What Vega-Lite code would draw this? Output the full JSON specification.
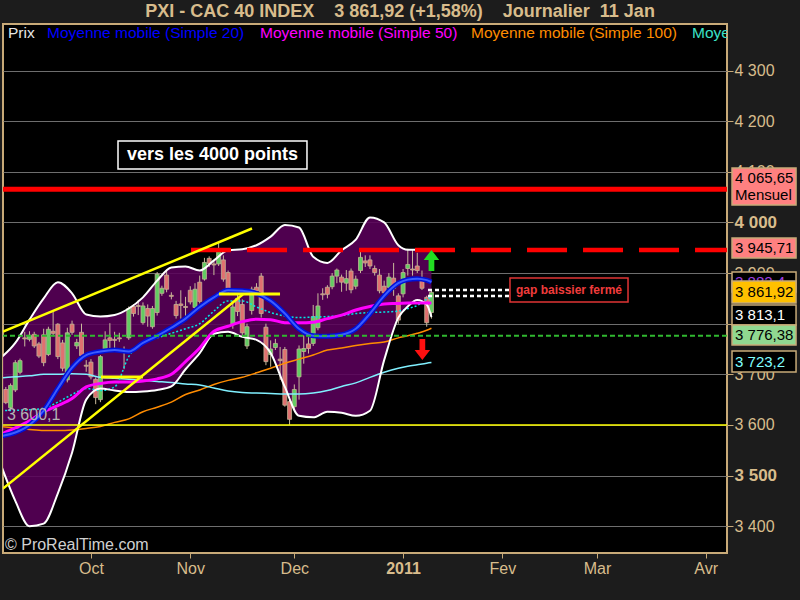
{
  "$schema": "https://vega.github.io/schema/vega-lite/v6.json",
  "width": 724,
  "height": 529,
  "autosize": {"type": "none"},
  "padding": {"left": 3, "top": 24, "right": 73, "bottom": 47},
  "background": "#1C1C1C",
  "title": {
    "text": "PXI - CAC 40 INDEX\u00a0\u00a0\u00a0 3 861,92 (+1,58%)\u00a0\u00a0\u00a0 Journalier\u00a0 11 Jan",
    "anchor": "middle",
    "dx": 35,
    "offset": -11,
    "baseline": "alphabetic",
    "font": "Liberation Sans",
    "fontSize": 18,
    "fontWeight": "bold",
    "color": "#D8BC8C"
  },
  "config": {
    "font": "Liberation Sans",
    "view": {"fill": "#000000", "stroke": "#C8AA78", "strokeWidth": 2}
  },
  "resolve": {"scale": {"fill": "independent"}},
  "datasets": {
    "k": [
      {"i": -18, "o": 3670, "h": 3675, "l": 3641, "c": 3644},
      {"i": -17, "o": 3634, "h": 3682, "l": 3630, "c": 3678},
      {"i": -16, "o": 3669, "h": 3728, "l": 3665, "c": 3723},
      {"i": -15, "o": 3704, "h": 3731, "l": 3700, "c": 3727},
      {"i": -14, "o": 3772, "h": 3784, "l": 3755, "c": 3770},
      {"i": -13, "o": 3769, "h": 3785, "l": 3765, "c": 3777},
      {"i": -12, "o": 3779, "h": 3784, "l": 3752, "c": 3756},
      {"i": -11, "o": 3760, "h": 3764, "l": 3732, "c": 3736},
      {"i": -10, "o": 3778, "h": 3790, "l": 3716, "c": 3723},
      {"i": -9, "o": 3739, "h": 3794, "l": 3736, "c": 3789},
      {"i": -8, "o": 3785, "h": 3823, "l": 3775, "c": 3781},
      {"i": -7, "o": 3799, "h": 3801, "l": 3730, "c": 3735},
      {"i": -6, "o": 3762, "h": 3768, "l": 3706, "c": 3712},
      {"i": -5, "o": 3689, "h": 3792, "l": 3684, "c": 3782},
      {"i": -4, "o": 3799, "h": 3806, "l": 3778, "c": 3783},
      {"i": -3, "o": 3756, "h": 3770, "l": 3750, "c": 3763},
      {"i": -2, "o": 3783, "h": 3800, "l": 3730, "c": 3737},
      {"i": -1, "o": 3718, "h": 3728, "l": 3705, "c": 3716},
      {"i": 0, "o": 3724, "h": 3730, "l": 3690, "c": 3695},
      {"i": 1, "o": 3690, "h": 3694, "l": 3641, "c": 3654},
      {"i": 2, "o": 3650, "h": 3738, "l": 3645, "c": 3735},
      {"i": 3, "o": 3750, "h": 3785, "l": 3745, "c": 3768},
      {"i": 4, "o": 3772, "h": 3801, "l": 3745, "c": 3767},
      {"i": 5, "o": 3769, "h": 3784, "l": 3748, "c": 3767},
      {"i": 6, "o": 3772, "h": 3782, "l": 3764, "c": 3770},
      {"i": 7, "o": 3745, "h": 3755, "l": 3710, "c": 3743},
      {"i": 8, "o": 3772, "h": 3834, "l": 3768, "c": 3830},
      {"i": 9, "o": 3834, "h": 3838, "l": 3814, "c": 3820},
      {"i": 10, "o": 3836, "h": 3847, "l": 3817, "c": 3834},
      {"i": 11, "o": 3802, "h": 3842, "l": 3798, "c": 3835},
      {"i": 12, "o": 3830, "h": 3838, "l": 3794, "c": 3815},
      {"i": 13, "o": 3794, "h": 3835, "l": 3790, "c": 3830},
      {"i": 14, "o": 3822, "h": 3902, "l": 3816, "c": 3898},
      {"i": 15, "o": 3860, "h": 3875, "l": 3855, "c": 3870},
      {"i": 16, "o": 3896, "h": 3905, "l": 3862, "c": 3868},
      {"i": 17, "o": 3856, "h": 3862, "l": 3848, "c": 3854},
      {"i": 18, "o": 3838, "h": 3845, "l": 3810, "c": 3816},
      {"i": 19, "o": 3839, "h": 3866, "l": 3810, "c": 3836},
      {"i": 20, "o": 3834, "h": 3853, "l": 3807, "c": 3832},
      {"i": 21, "o": 3866, "h": 3874, "l": 3838, "c": 3843},
      {"i": 22, "o": 3832, "h": 3880, "l": 3828, "c": 3868},
      {"i": 23, "o": 3882, "h": 3895, "l": 3840, "c": 3844},
      {"i": 24, "o": 3888, "h": 3930, "l": 3885, "c": 3921},
      {"i": 25, "o": 3929, "h": 3933, "l": 3912, "c": 3919},
      {"i": 26, "o": 3918, "h": 3925, "l": 3896, "c": 3916},
      {"i": 27, "o": 3918, "h": 3960, "l": 3914, "c": 3948},
      {"i": 28, "o": 3926, "h": 3935, "l": 3883, "c": 3888},
      {"i": 29, "o": 3901, "h": 3905, "l": 3860, "c": 3867},
      {"i": 30, "o": 3799, "h": 3845, "l": 3790, "c": 3833},
      {"i": 31, "o": 3850, "h": 3858, "l": 3815, "c": 3824},
      {"i": 32, "o": 3838, "h": 3848, "l": 3775, "c": 3782},
      {"i": 33, "o": 3756, "h": 3800, "l": 3750, "c": 3794},
      {"i": 34, "o": 3826, "h": 3873, "l": 3818, "c": 3868},
      {"i": 35, "o": 3872, "h": 3880, "l": 3860, "c": 3865},
      {"i": 36, "o": 3894, "h": 3900, "l": 3812, "c": 3820},
      {"i": 37, "o": 3793, "h": 3800, "l": 3718, "c": 3725},
      {"i": 38, "o": 3739, "h": 3767, "l": 3715, "c": 3750},
      {"i": 39, "o": 3753, "h": 3770, "l": 3748, "c": 3761},
      {"i": 40, "o": 3730, "h": 3754, "l": 3689, "c": 3727},
      {"i": 41, "o": 3749, "h": 3754, "l": 3636, "c": 3639},
      {"i": 42, "o": 3646, "h": 3650, "l": 3600.1, "c": 3611},
      {"i": 43, "o": 3636, "h": 3680, "l": 3630, "c": 3670},
      {"i": 44, "o": 3695, "h": 3757, "l": 3650, "c": 3750},
      {"i": 45, "o": 3745, "h": 3777, "l": 3721, "c": 3751},
      {"i": 46, "o": 3760, "h": 3781, "l": 3741, "c": 3751},
      {"i": 47, "o": 3761, "h": 3837, "l": 3756, "c": 3814},
      {"i": 48, "o": 3792, "h": 3860, "l": 3787, "c": 3835},
      {"i": 49, "o": 3859, "h": 3870, "l": 3847, "c": 3857},
      {"i": 50, "o": 3872, "h": 3876, "l": 3850, "c": 3858},
      {"i": 51, "o": 3873, "h": 3900, "l": 3868, "c": 3894},
      {"i": 52, "o": 3894, "h": 3909, "l": 3880, "c": 3906},
      {"i": 53, "o": 3892, "h": 3897, "l": 3863, "c": 3882},
      {"i": 54, "o": 3880, "h": 3906, "l": 3865, "c": 3889},
      {"i": 55, "o": 3904, "h": 3909, "l": 3860, "c": 3867},
      {"i": 56, "o": 3874, "h": 3895, "l": 3868, "c": 3888},
      {"i": 57, "o": 3905, "h": 3946, "l": 3900, "c": 3931},
      {"i": 58, "o": 3924, "h": 3935, "l": 3912, "c": 3920},
      {"i": 59, "o": 3926, "h": 3935, "l": 3908, "c": 3914},
      {"i": 60, "o": 3909, "h": 3915, "l": 3895, "c": 3901},
      {"i": 61, "o": 3896, "h": 3908, "l": 3860, "c": 3865},
      {"i": 62, "o": 3874, "h": 3885, "l": 3855, "c": 3861},
      {"i": 63, "o": 3872, "h": 3900, "l": 3865, "c": 3892},
      {"i": 64, "o": 3890, "h": 3920, "l": 3855, "c": 3870},
      {"i": 65, "o": 3855, "h": 3860, "l": 3800, "c": 3807},
      {"i": 66, "o": 3859, "h": 3908, "l": 3852, "c": 3901},
      {"i": 67, "o": 3909, "h": 3948, "l": 3895, "c": 3917},
      {"i": 68, "o": 3908, "h": 3946, "l": 3895, "c": 3906},
      {"i": 69, "o": 3914, "h": 3940, "l": 3900, "c": 3905},
      {"i": 70, "o": 3886, "h": 3905, "l": 3866.5, "c": 3870},
      {"i": 71, "o": 3852, "h": 3855.2, "l": 3794, "c": 3801.9},
      {"i": 72, "o": 3822, "h": 3867, "l": 3810, "c": 3861.92}
    ],
    "m": [
      {"i": -19, "ma20": 3578, "ma50": 3582, "ma100": 3597, "ma200": 3693, "mx": 3628, "bu": 3733, "bl": 3520},
      {"i": -16, "ma20": 3585, "ma50": 3594, "ma100": 3594, "ma200": 3695, "mx": 3629, "bu": 3762, "bl": 3450},
      {"i": -13, "ma20": 3600, "ma50": 3608, "ma100": 3591, "ma200": 3697, "mx": 3630, "bu": 3808, "bl": 3400},
      {"i": -10, "ma20": 3628, "ma50": 3626, "ma100": 3589, "ma200": 3700, "mx": 3633, "bu": 3850, "bl": 3405},
      {"i": -7, "ma20": 3672, "ma50": 3638, "ma100": 3589, "ma200": 3700, "mx": 3645, "bu": 3882, "bl": 3465},
      {"i": -4, "ma20": 3713, "ma50": 3652, "ma100": 3590, "ma200": 3701, "mx": 3660, "bu": 3860, "bl": 3545},
      {"i": -1, "ma20": 3738, "ma50": 3675, "ma100": 3593, "ma200": 3700, "mx": 3672, "bu": 3818, "bl": 3650},
      {"i": 2, "ma20": 3745, "ma50": 3682, "ma100": 3597, "ma200": 3694, "mx": 3668, "bu": 3814, "bl": 3672},
      {"i": 5, "ma20": 3748, "ma50": 3685, "ma100": 3605, "ma200": 3692, "mx": 3675, "bu": 3817, "bl": 3668},
      {"i": 8, "ma20": 3745, "ma50": 3685, "ma100": 3612, "ma200": 3690, "mx": 3735, "bu": 3830, "bl": 3665},
      {"i": 11, "ma20": 3762, "ma50": 3687, "ma100": 3626, "ma200": 3688, "mx": 3764, "bu": 3852, "bl": 3666},
      {"i": 14, "ma20": 3776, "ma50": 3691, "ma100": 3635, "ma200": 3686, "mx": 3772, "bu": 3885, "bl": 3669},
      {"i": 17, "ma20": 3792, "ma50": 3700, "ma100": 3645, "ma200": 3684, "mx": 3781, "bu": 3911, "bl": 3676},
      {"i": 20, "ma20": 3810, "ma50": 3725, "ma100": 3660, "ma200": 3681, "mx": 3790, "bu": 3913, "bl": 3710},
      {"i": 23, "ma20": 3833, "ma50": 3752, "ma100": 3669, "ma200": 3679, "mx": 3800, "bu": 3905, "bl": 3742},
      {"i": 26, "ma20": 3852, "ma50": 3785, "ma100": 3680, "ma200": 3673, "mx": 3825, "bu": 3925, "bl": 3780},
      {"i": 29, "ma20": 3866, "ma50": 3795, "ma100": 3688, "ma200": 3667, "mx": 3845, "bu": 3945, "bl": 3784},
      {"i": 32, "ma20": 3865, "ma50": 3804, "ma100": 3694, "ma200": 3664, "mx": 3845, "bu": 3947, "bl": 3774},
      {"i": 35, "ma20": 3860, "ma50": 3809, "ma100": 3703, "ma200": 3663, "mx": 3833, "bu": 3955, "bl": 3768},
      {"i": 38, "ma20": 3845, "ma50": 3808, "ma100": 3712, "ma200": 3662, "mx": 3822, "bu": 3972, "bl": 3742},
      {"i": 41, "ma20": 3820, "ma50": 3802, "ma100": 3722, "ma200": 3661, "mx": 3815, "bu": 3995, "bl": 3675},
      {"i": 44, "ma20": 3790, "ma50": 3802, "ma100": 3730, "ma200": 3661, "mx": 3812, "bu": 3990, "bl": 3618},
      {"i": 47, "ma20": 3776, "ma50": 3803, "ma100": 3738, "ma200": 3663, "mx": 3813, "bu": 3932, "bl": 3615},
      {"i": 50, "ma20": 3775, "ma50": 3810, "ma100": 3748, "ma200": 3668, "mx": 3814, "bu": 3920, "bl": 3626},
      {"i": 53, "ma20": 3778, "ma50": 3817, "ma100": 3752, "ma200": 3676, "mx": 3816, "bu": 3945, "bl": 3624},
      {"i": 56, "ma20": 3790, "ma50": 3827, "ma100": 3757, "ma200": 3683, "mx": 3820, "bu": 3966, "bl": 3618},
      {"i": 59, "ma20": 3820, "ma50": 3834, "ma100": 3761, "ma200": 3694, "mx": 3822, "bu": 4010, "bl": 3628},
      {"i": 62, "ma20": 3855, "ma50": 3839, "ma100": 3764, "ma200": 3704, "mx": 3823, "bu": 4000, "bl": 3728},
      {"i": 65, "ma20": 3880, "ma50": 3840, "ma100": 3772, "ma200": 3712, "mx": 3825, "bu": 3955, "bl": 3812},
      {"i": 67, "ma20": 3887, "ma50": 3841, "ma100": 3776, "ma200": 3716, "mx": 3830, "bu": 3946, "bl": 3834},
      {"i": 69, "ma20": 3889, "ma50": 3841, "ma100": 3781, "ma200": 3719, "mx": 3836, "bu": 3946, "bl": 3847},
      {"i": 71, "ma20": 3886, "ma50": 3841, "ma100": 3787, "ma200": 3722, "mx": 3848, "bu": 3946, "bl": 3838},
      {"i": 72, "ma20": 3882.4, "ma50": 3841, "ma100": 3791, "ma200": 3723.2, "mx": 3853, "bu": 3946, "bl": 3813.1}
    ],
    "vb": [
      {"s": "a", "t": "4 065,65\nMensuel", "p1": 4107.6, "p2": 4034.5, "pt": 4087.8},
      {"s": "b", "t": "3 945,71", "p1": 3969.2, "p2": 3929.7, "pt": 3949.5},
      {"s": "c", "t": "3 882,4", "p1": 3902, "p2": 3862.5, "pt": 3882},
      {"s": "d", "t": "3 861,92", "p1": 3884.3, "p2": 3840.8, "pt": 3862.5},
      {"s": "e", "t": "3 813,1", "p1": 3836.8, "p2": 3797.3, "pt": 3817},
      {"s": "f", "t": "3 776,38", "p1": 3797.3, "p2": 3757.7, "pt": 3777.5},
      {"s": "g", "t": "3 723,2", "p1": 3745.9, "p2": 3704.4, "pt": 3725}
    ]
  },
  "layer": [
    {
      "data": {"name": "m"},
      "mark": {"type": "area", "interpolate": "monotone", "color": "#5A005A", "opacity": 0.88, "clip": true},
      "encoding": {
        "x": {
          "field": "i",
          "type": "quantitative",
          "scale": {"domain": [-18.6, 134.5], "nice": false, "zero": false, "padding": 0},
          "axis": {
            "title": null,
            "orient": "bottom",
            "values": [0, 21, 43, 66, 87, 107, 130],
            "grid": false,
            "domain": false,
            "ticks": true,
            "tickColor": "#C8AA78",
            "tickSize": 5,
            "labelColor": "#D8BC8C",
            "labelFont": "Liberation Sans",
            "labelFontSize": 16,
            "labelPadding": 2,
            "labelFlush": false,
            "labelOverlap": false,
            "labelFontWeight": {"condition": {"test": "datum.value == 66", "value": "bold"}, "value": "normal"},
            "labelExpr": "datum.value == 0 ? 'Oct' : datum.value == 21 ? 'Nov' : datum.value == 43 ? 'Dec' : datum.value == 66 ? '2011' : datum.value == 87 ? 'Fev' : datum.value == 107 ? 'Mar' : 'Avr'"
          }
        },
        "y": {
          "field": "bu",
          "type": "quantitative",
          "scale": {"domain": [3347, 4392], "nice": false, "zero": false, "padding": 0},
          "axis": {
            "title": null,
            "orient": "right",
            "values": [3400, 3500, 3600, 3700, 3800, 3900, 4000, 4100, 4200, 4300],
            "grid": true,
            "gridColor": "#6E6E6E",
            "gridWidth": 1,
            "domain": false,
            "ticks": true,
            "tickColor": "#C8AA78",
            "tickSize": 6,
            "labelColor": "#D8BC8C",
            "labelFont": "Liberation Sans",
            "labelFontSize": {"condition": {"test": "datum.value == 4000 || datum.value == 3500", "value": 17}, "value": 16},
            "labelFontWeight": {"condition": {"test": "datum.value == 4000 || datum.value == 3500", "value": "bold"}, "value": "normal"},
            "labelPadding": 1,
            "labelFlush": false,
            "labelOverlap": false,
            "labelExpr": "replace(format(datum.value, ','), ',', ' ')"
          }
        },
        "y2": {"field": "bl"}
      }
    },
    {
      "data": {"name": "k"},
      "mark": {"type": "rule", "color": "#C9BA9C", "strokeWidth": 1, "clip": true},
      "encoding": {
        "x": {"field": "i", "type": "quantitative", "scale": {"domain": [-18.6, 134.5], "nice": false, "zero": false, "padding": 0}},
        "y": {"field": "l", "type": "quantitative", "scale": {"domain": [3347, 4392], "nice": false, "zero": false, "padding": 0}},
        "y2": {"field": "h"}
      }
    },
    {
      "data": {"name": "k"},
      "mark": {"type": "bar", "width": 4, "stroke": "#C2B294", "strokeWidth": 0.8, "clip": true},
      "encoding": {
        "x": {"field": "i", "type": "quantitative", "scale": {"domain": [-18.6, 134.5], "nice": false, "zero": false, "padding": 0}},
        "y": {"field": "o", "type": "quantitative", "scale": {"domain": [3347, 4392], "nice": false, "zero": false, "padding": 0}},
        "y2": {"field": "c"},
        "fill": {"condition": {"test": "datum.c >= datum.o", "value": "#62CC62"}, "value": "#E07070"}
      }
    },
    {
      "data": {"name": "m"},
      "mark": {"type": "line", "interpolate": "monotone", "color": "#FF8C00", "strokeWidth": 1.5, "clip": true},
      "encoding": {
        "x": {"field": "i", "type": "quantitative", "scale": {"domain": [-18.6, 134.5], "nice": false, "zero": false, "padding": 0}},
        "y": {"field": "ma100", "type": "quantitative", "scale": {"domain": [3347, 4392], "nice": false, "zero": false, "padding": 0}}
      }
    },
    {
      "data": {"name": "m"},
      "mark": {"type": "line", "interpolate": "monotone", "color": "#80F0FF", "strokeWidth": 1.5, "clip": true},
      "encoding": {
        "x": {"field": "i", "type": "quantitative", "scale": {"domain": [-18.6, 134.5], "nice": false, "zero": false, "padding": 0}},
        "y": {"field": "ma200", "type": "quantitative", "scale": {"domain": [3347, 4392], "nice": false, "zero": false, "padding": 0}}
      }
    },
    {
      "data": {"name": "m"},
      "mark": {"type": "line", "interpolate": "monotone", "color": "#00E8E8", "strokeWidth": 1.5, "strokeDash": [2, 2], "clip": true},
      "encoding": {
        "x": {"field": "i", "type": "quantitative", "scale": {"domain": [-18.6, 134.5], "nice": false, "zero": false, "padding": 0}},
        "y": {"field": "mx", "type": "quantitative", "scale": {"domain": [3347, 4392], "nice": false, "zero": false, "padding": 0}}
      }
    },
    {
      "data": {"name": "m"},
      "mark": {"type": "line", "interpolate": "monotone", "color": "#FFFFFF", "strokeWidth": 2, "clip": true},
      "encoding": {
        "x": {"field": "i", "type": "quantitative", "scale": {"domain": [-18.6, 134.5], "nice": false, "zero": false, "padding": 0}},
        "y": {"field": "bu", "type": "quantitative", "scale": {"domain": [3347, 4392], "nice": false, "zero": false, "padding": 0}}
      }
    },
    {
      "data": {"name": "m"},
      "mark": {"type": "line", "interpolate": "monotone", "color": "#FFFFFF", "strokeWidth": 2, "clip": true},
      "encoding": {
        "x": {"field": "i", "type": "quantitative", "scale": {"domain": [-18.6, 134.5], "nice": false, "zero": false, "padding": 0}},
        "y": {"field": "bl", "type": "quantitative", "scale": {"domain": [3347, 4392], "nice": false, "zero": false, "padding": 0}}
      }
    },
    {
      "data": {"name": "m"},
      "mark": {"type": "line", "interpolate": "monotone", "color": "#FF00FF", "strokeWidth": 3, "clip": true},
      "encoding": {
        "x": {"field": "i", "type": "quantitative", "scale": {"domain": [-18.6, 134.5], "nice": false, "zero": false, "padding": 0}},
        "y": {"field": "ma50", "type": "quantitative", "scale": {"domain": [3347, 4392], "nice": false, "zero": false, "padding": 0}}
      }
    },
    {
      "data": {"name": "m"},
      "mark": {"type": "line", "interpolate": "monotone", "color": "#0010D8", "strokeWidth": 5, "clip": true},
      "encoding": {
        "x": {"field": "i", "type": "quantitative", "scale": {"domain": [-18.6, 134.5], "nice": false, "zero": false, "padding": 0}},
        "y": {"field": "ma20", "type": "quantitative", "scale": {"domain": [3347, 4392], "nice": false, "zero": false, "padding": 0}}
      }
    },
    {
      "data": {"name": "m"},
      "mark": {"type": "line", "interpolate": "monotone", "color": "#3A5CFF", "strokeWidth": 2, "clip": true},
      "encoding": {
        "x": {"field": "i", "type": "quantitative", "scale": {"domain": [-18.6, 134.5], "nice": false, "zero": false, "padding": 0}},
        "y": {"field": "ma20", "type": "quantitative", "scale": {"domain": [3347, 4392], "nice": false, "zero": false, "padding": 0}}
      }
    },
    {
      "data": {"values": [{"p": 4065.65}]},
      "mark": {"type": "rule", "color": "#FF0000", "strokeWidth": 5, "clip": true},
      "encoding": {
        "y": {"field": "p", "type": "quantitative", "scale": {"domain": [3347, 4392], "nice": false, "zero": false, "padding": 0}}
      }
    },
    {
      "data": {"values": [{"p": 3945.71}]},
      "mark": {"type": "rule", "color": "#FF0000", "strokeWidth": 4.5, "strokeDash": [40, 16], "clip": true},
      "encoding": {
        "x": {"datum": 21.16, "type": "quantitative", "scale": {"domain": [-18.6, 134.5], "nice": false, "zero": false, "padding": 0}},
        "x2": {"datum": 134.5},
        "y": {"field": "p", "type": "quantitative", "scale": {"domain": [3347, 4392], "nice": false, "zero": false, "padding": 0}}
      }
    },
    {
      "data": {"values": [{"p": 3776.38}]},
      "mark": {"type": "rule", "color": "#30B830", "strokeWidth": 2, "strokeDash": [5, 3], "clip": true},
      "encoding": {
        "y": {"field": "p", "type": "quantitative", "scale": {"domain": [3347, 4392], "nice": false, "zero": false, "padding": 0}}
      }
    },
    {
      "data": {"values": [{"p": 3600.1}]},
      "mark": {"type": "rule", "color": "#FFFF00", "strokeWidth": 1.5, "clip": true},
      "encoding": {
        "y": {"field": "p", "type": "quantitative", "scale": {"domain": [3347, 4392], "nice": false, "zero": false, "padding": 0}}
      }
    },
    {
      "data": {"values": [
        {"i": -18.6, "p": 3784.2, "i2": 34.05, "p2": 3988.0},
        {"i": -18.6, "p": 3474.4, "i2": 32.15, "p2": 3858.1}
      ]},
      "mark": {"type": "rule", "color": "#FFFF00", "strokeWidth": 2.5, "clip": true},
      "encoding": {
        "x": {"field": "i", "type": "quantitative", "scale": {"domain": [-18.6, 134.5], "nice": false, "zero": false, "padding": 0}},
        "x2": {"field": "i2"},
        "y": {"field": "p", "type": "quantitative", "scale": {"domain": [3347, 4392], "nice": false, "zero": false, "padding": 0}},
        "y2": {"field": "p2"}
      }
    },
    {
      "data": {"values": [
        {"i": 27.08, "i2": 39.98, "p": 3858.6},
        {"i": 2.12, "i2": 11.0, "p": 3694.7}
      ]},
      "mark": {"type": "rule", "color": "#FFFF00", "strokeWidth": 3, "clip": true},
      "encoding": {
        "x": {"field": "i", "type": "quantitative", "scale": {"domain": [-18.6, 134.5], "nice": false, "zero": false, "padding": 0}},
        "x2": {"field": "i2"},
        "y": {"field": "p", "type": "quantitative", "scale": {"domain": [3347, 4392], "nice": false, "zero": false, "padding": 0}}
      }
    },
    {
      "data": {"values": [
        {"i": 71.27, "i2": 88.61, "p": 3866.5},
        {"i": 71.27, "i2": 88.61, "p": 3854.7}
      ]},
      "mark": {"type": "rule", "color": "#FFFFFF", "strokeWidth": 2.5, "strokeDash": [4, 3], "clip": true},
      "encoding": {
        "x": {"field": "i", "type": "quantitative", "scale": {"domain": [-18.6, 134.5], "nice": false, "zero": false, "padding": 0}},
        "x2": {"field": "i2"},
        "y": {"field": "p", "type": "quantitative", "scale": {"domain": [3347, 4392], "nice": false, "zero": false, "padding": 0}}
      }
    },
    {
      "data": {"values": [{"i": 88.61, "i2": 113.57, "p": 3842.8, "p2": 3890.3}]},
      "mark": {"type": "rect", "fill": "#000000", "stroke": "#E03434", "strokeWidth": 1.5, "clip": true},
      "encoding": {
        "x": {"field": "i", "type": "quantitative", "scale": {"domain": [-18.6, 134.5], "nice": false, "zero": false, "padding": 0}},
        "x2": {"field": "i2"},
        "y": {"field": "p", "type": "quantitative", "scale": {"domain": [3347, 4392], "nice": false, "zero": false, "padding": 0}},
        "y2": {"field": "p2"}
      }
    },
    {
      "data": {"values": [{"i": 101.09, "p": 3865.6, "t": "gap baissier fermé"}]},
      "mark": {"type": "text", "color": "#F03C3C", "font": "Liberation Sans", "fontSize": 12, "fontWeight": "bold", "align": "center", "baseline": "middle"},
      "encoding": {
        "x": {"field": "i", "type": "quantitative", "scale": {"domain": [-18.6, 134.5], "nice": false, "zero": false, "padding": 0}},
        "y": {"field": "p", "type": "quantitative", "scale": {"domain": [3347, 4392], "nice": false, "zero": false, "padding": 0}},
        "text": {"field": "t"}
      }
    },
    {
      "data": {"values": [{"i": 5.72, "i2": 45.68, "p": 4105.6, "p2": 4160.9}]},
      "mark": {"type": "rect", "fill": "#000000", "stroke": "#FFFFFF", "strokeWidth": 1.5, "clip": true},
      "encoding": {
        "x": {"field": "i", "type": "quantitative", "scale": {"domain": [-18.6, 134.5], "nice": false, "zero": false, "padding": 0}},
        "x2": {"field": "i2"},
        "y": {"field": "p", "type": "quantitative", "scale": {"domain": [3347, 4392], "nice": false, "zero": false, "padding": 0}},
        "y2": {"field": "p2"}
      }
    },
    {
      "data": {"values": [{"i": 25.7, "p": 4133.2, "t": "vers les 4000 points"}]},
      "mark": {"type": "text", "color": "#FFFFFF", "font": "Liberation Sans", "fontSize": 18, "fontWeight": "bold", "align": "center", "baseline": "middle"},
      "encoding": {
        "x": {"field": "i", "type": "quantitative", "scale": {"domain": [-18.6, 134.5], "nice": false, "zero": false, "padding": 0}},
        "y": {"field": "p", "type": "quantitative", "scale": {"domain": [3347, 4392], "nice": false, "zero": false, "padding": 0}},
        "text": {"field": "t"}
      }
    },
    {
      "data": {"values": [{"i": 72, "p": 3924.8}]},
      "mark": {"type": "point", "shape": "M0,-1L0.73,-0.05L0.27,-0.05L0.27,1L-0.27,1L-0.27,-0.05L-0.73,-0.05Z", "size": 450, "filled": true, "color": "#22DD22", "opacity": 1, "strokeWidth": 0},
      "encoding": {
        "x": {"field": "i", "type": "quantitative", "scale": {"domain": [-18.6, 134.5], "nice": false, "zero": false, "padding": 0}},
        "y": {"field": "p", "type": "quantitative", "scale": {"domain": [3347, 4392], "nice": false, "zero": false, "padding": 0}}
      }
    },
    {
      "data": {"values": [{"i": 70.08, "p": 3749}]},
      "mark": {"type": "point", "shape": "M0,1L0.73,0.05L0.27,0.05L0.27,-1L-0.27,-1L-0.27,0.05L-0.73,0.05Z", "size": 450, "filled": true, "color": "#FF1010", "opacity": 1, "strokeWidth": 0},
      "encoding": {
        "x": {"field": "i", "type": "quantitative", "scale": {"domain": [-18.6, 134.5], "nice": false, "zero": false, "padding": 0}},
        "y": {"field": "p", "type": "quantitative", "scale": {"domain": [3347, 4392], "nice": false, "zero": false, "padding": 0}}
      }
    },
    {
      "data": {"values": [
        {"i": -17.54, "s": "a", "t": "Prix"},
        {"i": -9.3, "s": "b", "t": "Moyenne mobile (Simple 20)"},
        {"i": 35.75, "s": "c", "t": "Moyenne mobile (Simple 50)"},
        {"i": 80.37, "s": "d", "t": "Moyenne mobile (Simple 100)"},
        {"i": 127.1, "s": "e", "t": "Moyenne mobile (Simple 200)"}
      ]},
      "mark": {"type": "text", "font": "Liberation Sans", "fontSize": 15.5, "align": "left", "baseline": "middle", "clip": true},
      "encoding": {
        "x": {"field": "i", "type": "quantitative", "scale": {"domain": [-18.6, 134.5], "nice": false, "zero": false, "padding": 0}},
        "y": {"datum": 4374.2, "type": "quantitative", "scale": {"domain": [3347, 4392], "nice": false, "zero": false, "padding": 0}},
        "text": {"field": "t"},
        "fill": {
          "field": "s",
          "type": "nominal",
          "scale": {"domain": ["a", "b", "c", "d", "e"], "range": ["#E6E6E6", "#0000FF", "#FF00FF", "#FF8C00", "#3CE0C8"]},
          "legend": null
        }
      }
    },
    {
      "data": {"values": [{"i": -18.18, "p": 3362.8, "t": "© ProRealTime.com"}]},
      "mark": {"type": "text", "color": "#D0D0D0", "font": "Liberation Sans", "fontSize": 16, "align": "left", "baseline": "middle"},
      "encoding": {
        "x": {"field": "i", "type": "quantitative", "scale": {"domain": [-18.6, 134.5], "nice": false, "zero": false, "padding": 0}},
        "y": {"field": "p", "type": "quantitative", "scale": {"domain": [3347, 4392], "nice": false, "zero": false, "padding": 0}},
        "text": {"field": "t"}
      }
    },
    {
      "data": {"values": [{"i": -17.75, "p": 3619.6, "t": "3 600,1"}]},
      "mark": {"type": "text", "color": "#B4B4B4", "font": "Liberation Sans", "fontSize": 16, "align": "left", "baseline": "middle"},
      "encoding": {
        "x": {"field": "i", "type": "quantitative", "scale": {"domain": [-18.6, 134.5], "nice": false, "zero": false, "padding": 0}},
        "y": {"field": "p", "type": "quantitative", "scale": {"domain": [3347, 4392], "nice": false, "zero": false, "padding": 0}},
        "text": {"field": "t"}
      }
    },
    {
      "data": {"name": "vb"},
      "transform": [{"filter": "datum.s != 'd'"}],
      "mark": {"type": "rect", "stroke": "#C8AA78", "strokeWidth": 1.5},
      "encoding": {
        "x": {"datum": 135.56, "type": "quantitative", "scale": {"domain": [-18.6, 134.5], "nice": false, "zero": false, "padding": 0}},
        "x2": {"datum": 149.1},
        "y": {"field": "p1", "type": "quantitative", "scale": {"domain": [3347, 4392], "nice": false, "zero": false, "padding": 0}},
        "y2": {"field": "p2"},
        "fill": {
          "field": "s",
          "type": "nominal",
          "scale": {"domain": ["a", "b", "c", "e", "f", "g"], "range": ["#FF8080", "#FF8080", "#000000", "#000000", "#90D890", "#000000"]},
          "legend": null
        }
      }
    },
    {
      "data": {"name": "vb"},
      "transform": [{"filter": "datum.s != 'd'"}],
      "mark": {"type": "text", "font": "Liberation Sans", "fontSize": 15, "align": "left", "baseline": "middle", "lineBreak": "\n", "lineHeight": 17},
      "encoding": {
        "x": {"datum": 136.2, "type": "quantitative", "scale": {"domain": [-18.6, 134.5], "nice": false, "zero": false, "padding": 0}},
        "y": {"field": "pt", "type": "quantitative", "scale": {"domain": [3347, 4392], "nice": false, "zero": false, "padding": 0}},
        "text": {"field": "t"},
        "fill": {
          "field": "s",
          "type": "nominal",
          "scale": {"domain": ["a", "b", "c", "e", "f", "g"], "range": ["#000000", "#000000", "#A040E0", "#FFFFFF", "#000000", "#80FFFF"]},
          "legend": null
        }
      }
    },
    {
      "data": {"name": "vb"},
      "transform": [{"filter": "datum.s == 'd'"}],
      "mark": {"type": "rect", "fill": "#FFC000", "stroke": "#C8AA78", "strokeWidth": 1.5},
      "encoding": {
        "x": {"datum": 135.56, "type": "quantitative", "scale": {"domain": [-18.6, 134.5], "nice": false, "zero": false, "padding": 0}},
        "x2": {"datum": 149.1},
        "y": {"field": "p1", "type": "quantitative", "scale": {"domain": [3347, 4392], "nice": false, "zero": false, "padding": 0}},
        "y2": {"field": "p2"}
      }
    },
    {
      "data": {"name": "vb"},
      "transform": [{"filter": "datum.s == 'd'"}],
      "mark": {"type": "text", "color": "#000000", "font": "Liberation Sans", "fontSize": 15, "align": "left", "baseline": "middle"},
      "encoding": {
        "x": {"datum": 136.2, "type": "quantitative", "scale": {"domain": [-18.6, 134.5], "nice": false, "zero": false, "padding": 0}},
        "y": {"field": "pt", "type": "quantitative", "scale": {"domain": [3347, 4392], "nice": false, "zero": false, "padding": 0}},
        "text": {"field": "t"}
      }
    }
  ]
}
